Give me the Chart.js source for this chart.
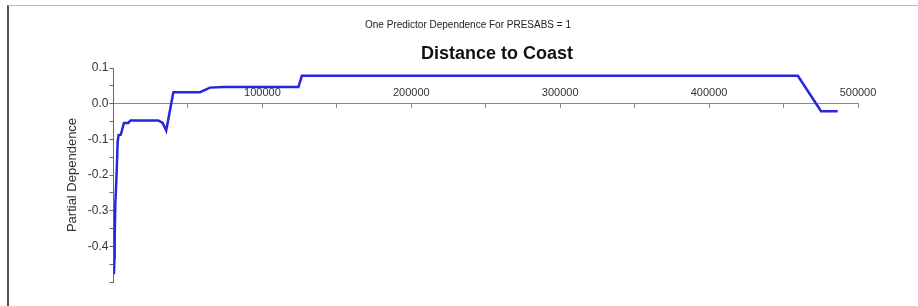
<!DOCTYPE html>
<html>
<head>
<meta charset="utf-8">
<script src="https://cdn.jsdelivr.net/npm/chart.js@4"></script>
<style>
  body { margin: 0; background: #fff; }
  #wrap { position: relative; width: 918px; height: 306px; }
  #frame { position: absolute; left: 7px; top: 5px; right: 0; bottom: 0;
           border-top: 1px solid #bbb; border-left: 2px solid #555; }
  #chart { position: absolute; left: 0; top: 0; }
</style>
</head>
<body>
<div id="wrap">
  <div id="frame"></div>
  <canvas id="chart" width="918" height="306"></canvas>
</div>
<script>
// Textos do gráfico
const tituloTopo = 'One Predictor Dependence For PRESABS = 1';
const tituloPrincipal = 'Distance to Coast';
const tituloY = 'Partial Dependence';

// Distância à costa (eixo X) e dependência parcial (eixo Y)
const distancia = [300, 670, 800, 1200, 2150, 2800, 3400, 4900, 7000, 9900, 11500,
  30100, 33000, 35400, 40200, 58100, 64800, 74000, 124200, 126500, 459600, 475200, 486400];
const dependencia = [-0.478, -0.43, -0.38, -0.284, -0.19, -0.106, -0.088, -0.087, -0.054, -0.054, -0.047,
  -0.047, -0.054, -0.075, 0.032, 0.032, 0.045, 0.047, 0.047, 0.078, 0.078, -0.021, -0.021];

const pontos = distancia.map((x, i) => ({ x: x, y: dependencia[i] }));

const fonte = 'Liberation Sans, Arial, sans-serif';

// Plugin simples para desenhar os dois títulos nas posições da imagem
const titulos = {
  id: 'titulos',
  afterDraw(chart) {
    const c = chart.ctx;
    c.save();
    c.fillStyle = '#222';
    c.textAlign = 'center';
    c.textBaseline = 'middle';
    c.font = '10px ' + fonte;
    c.fillText(tituloTopo, 468, 25);
    c.fillStyle = '#111';
    c.font = 'bold 18px ' + fonte;
    c.fillText(tituloPrincipal, 497, 54);
    c.restore();
  }
};

const ctx = document.getElementById('chart').getContext('2d');
new Chart(ctx, {
  type: 'line',
  data: {
    datasets: [{
      data: pontos,
      borderColor: '#2626dc',
      borderWidth: 2.5,
      pointRadius: 0,
      tension: 0,
      fill: false
    }]
  },
  options: {
    responsive: false,
    animation: false,
    layout: { padding: { left: 0, right: 60, top: 68, bottom: 24 } },
    plugins: { legend: { display: false }, tooltip: { enabled: false } },
    scales: {
      x: {
        type: 'linear',
        position: { y: 0 },
        min: 0,
        max: 500000,
        border: { color: '#888', width: 1 },
        grid: { drawOnChartArea: false, tickLength: 4, color: '#888' },
        ticks: {
          stepSize: 50000,
          autoSkip: false,
          maxRotation: 0,
          padding: -21,
          color: '#333',
          font: { family: fonte, size: 11 },
          callback: v => (v % 100000 === 0 && v !== 0) ? String(v) : ''
        }
      },
      y: {
        min: -0.5,
        max: 0.1,
        afterFit: s => { s.width = 113.5; },
        border: { color: '#666', width: 1 },
        grid: { drawOnChartArea: false, tickLength: 4, color: '#666' },
        ticks: {
          stepSize: 0.05,
          autoSkip: false,
          padding: 1,
          color: '#333',
          font: { family: fonte, size: 12 },
          callback: v => {
            const n = Math.round(v * 20);
            if (n % 2 !== 0 || n === -10) return '';
            return (Math.round(v * 10) / 10).toFixed(1);
          }
        },
        title: {
          display: true,
          text: tituloY,
          color: '#333',
          font: { family: fonte, size: 13 },
          padding: { top: 65, bottom: 0 }
        }
      }
    }
  },
  plugins: [titulos]
});
</script>
</body>
</html>
